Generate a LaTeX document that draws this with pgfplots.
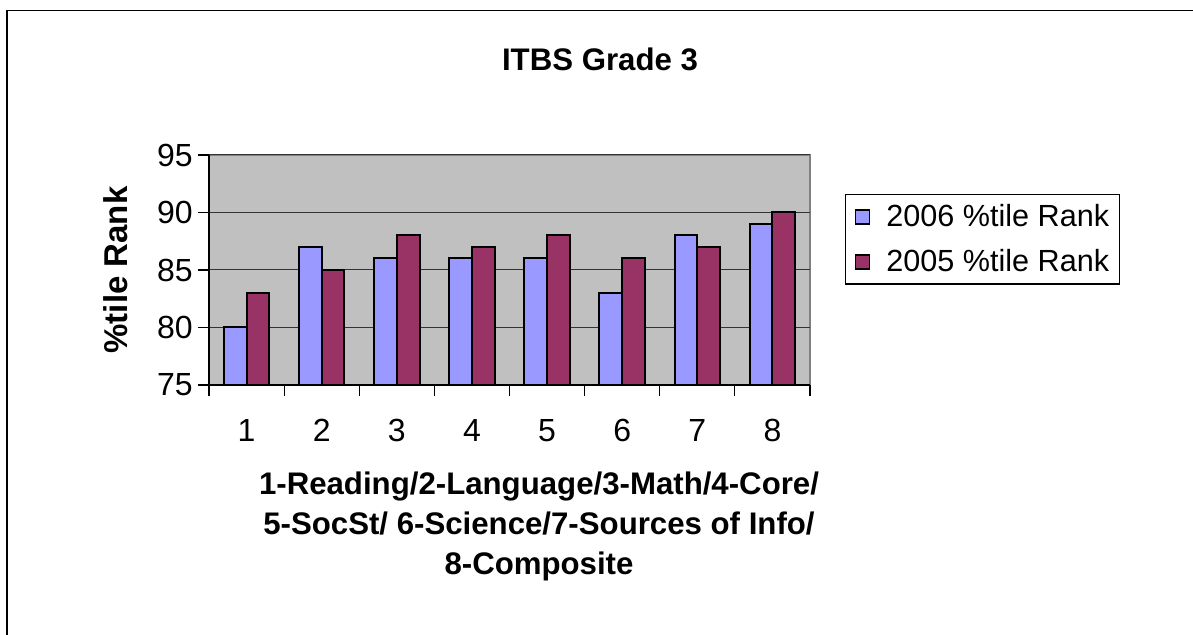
\documentclass[border=0pt]{standalone}
\usepackage{fontspec}
\setmainfont{Liberation Sans}
\usepackage{pgfplots}
\pgfplotsset{compat=1.18}
\definecolor{barblue}{HTML}{9999FF}
\definecolor{barred}{HTML}{993366}
\definecolor{plotbg}{HTML}{C0C0C0}
\newcommand{\fs}{\fontsize{15.6pt}{20pt}\selectfont}
\newcommand{\ft}{\fontsize{16pt}{20pt}\selectfont}
\newcommand{\fl}{\fontsize{15.3pt}{20pt}\selectfont}
\begin{document}
\begin{tikzpicture}
\useasboundingbox (0,0) rectangle (596.5pt,317.5pt);
\draw[line width=0.9pt] (3.5pt,0) -- (3.5pt,312.25pt) -- (596.5pt,312.25pt);
\begin{axis}[
  at={(104.5pt,125pt)}, anchor=south west,
  scale only axis, width=300.5pt, height=115pt,
  ybar=0pt, bar width=11.35pt,
  xmin=0.5, xmax=8.5, ymin=75, ymax=95,
  ytick={75,80,85,90,95},
  xtick={0.5,1.5,...,8.5}, xticklabels={},
  extra x ticks={1,2,3,4,5,6,7,8},
  extra x tick labels={1,2,3,4,5,6,7,8},
  extra x tick style={major tick length=0pt, grid=none},
  tick align=outside, major tick length=5.5pt,
  axis x line*=bottom, axis y line*=left,
  axis line style={black, line width=0.6pt},
  tick style={black, line width=0.6pt},
  ymajorgrids, grid style={black!80, line width=0.5pt},
  axis background/.style={fill=plotbg, draw=black!50, line width=0.6pt},
  /pgf/number format/assume math mode=true,
  tick label style={font=\ft},
  yticklabel style={inner sep=2.5pt},
  xticklabel style={inner sep=0pt, yshift=-17pt},
  legend style={at={(1.0582,0.830)}, anchor=north west, font=\fl,
    draw=black, line width=0.6pt, fill=white,
    inner xsep=1pt, inner ysep=0.75pt, row sep=2pt,
    nodes={inner xsep=4pt, inner ysep=4pt},
    /tikz/every odd column/.append style={column sep=4pt}},
  legend cell align=left,
  legend image code/.code={\path[draw=none, fill=none] (0pt,0pt) rectangle (11pt,0.1pt);
    \draw[#1, draw=black, line width=0.8pt] (4pt,-3.5pt) rectangle (11pt,3.5pt);},
]
\addplot[fill=barblue, draw=black, line width=1pt] coordinates {
  (1,80) (2,87) (3,86) (4,86) (5,86) (6,83) (7,88) (8,89)};
\addplot[fill=barred, draw=black, line width=1pt] coordinates {
  (1,83) (2,85) (3,88) (4,87) (5,88) (6,86) (7,87) (8,90)};
\legend{2006 \%tile Rank, 2005 \%tile Rank}
\end{axis}
\node[font=\fs\bfseries] at (300pt,288pt) {ITBS Grade 3};
\node[font=\fontsize{16.5pt}{20pt}\selectfont\bfseries, rotate=90] at (58pt,182.5pt) {\%tile Rank};
\node[font=\fs\bfseries, align=center] at (269.5pt,54.5pt)
  {1-Reading/2-Language/3-Math/4-Core/\\5-SocSt/ 6-Science/7-Sources of Info/\\8-Composite};
\end{tikzpicture}
\end{document}
